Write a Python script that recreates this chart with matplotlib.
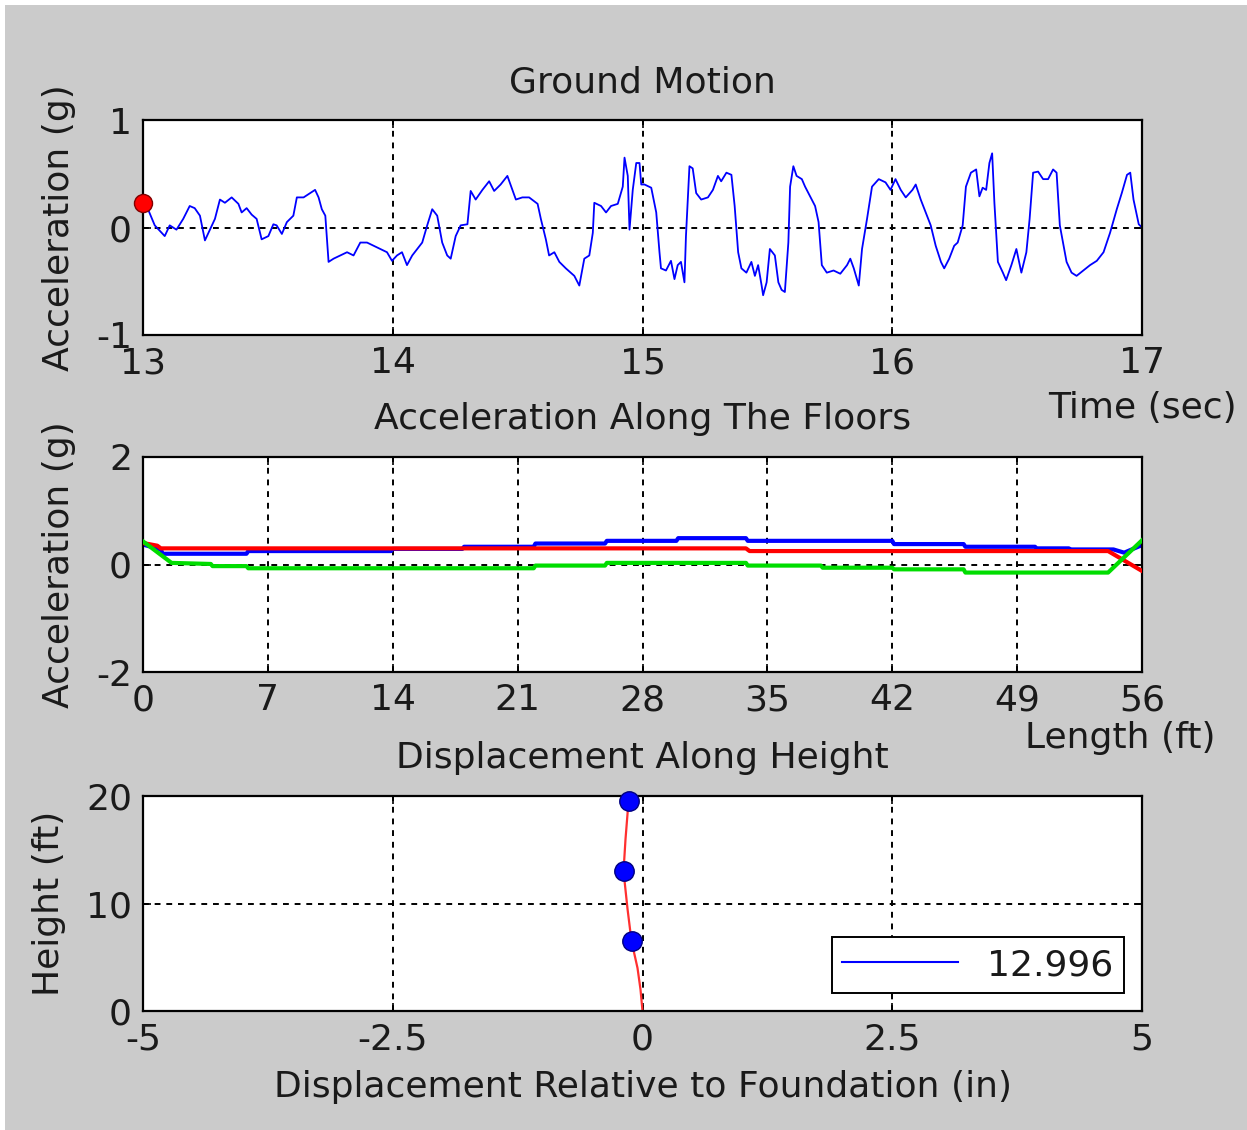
import numpy as np
import matplotlib
matplotlib.use('Agg')
import matplotlib.pyplot as plt
from matplotlib.lines import Line2D
from matplotlib.patches import Rectangle

plt.rcParams['font.family'] = ['DejaVu Sans']
plt.rcParams['axes.unicode_minus'] = False

# ground motion record (time in sec, acceleration in g)
gm_time = [13.000, 13.020, 13.047, 13.087, 13.107, 13.134, 13.161, 13.187, 13.207, 13.228,
           13.248, 13.268, 13.288, 13.308, 13.328, 13.355, 13.382, 13.395, 13.415, 13.435,
           13.455, 13.475, 13.502, 13.522, 13.535, 13.556, 13.576, 13.602, 13.616, 13.643,
           13.663, 13.689, 13.703, 13.716, 13.730, 13.743, 13.763, 13.790, 13.817, 13.843,
           13.870, 13.897, 13.924, 13.950, 13.977, 13.997, 14.017, 14.037, 14.057, 14.078,
           14.098, 14.118, 14.138, 14.158, 14.178, 14.198, 14.218, 14.232, 14.252, 14.272,
           14.299, 14.312, 14.332, 14.359, 14.386, 14.406, 14.432, 14.459, 14.479, 14.493,
           14.519, 14.546, 14.580, 14.593, 14.613, 14.626, 14.647, 14.667, 14.693, 14.727,
           14.747, 14.767, 14.787, 14.801, 14.807, 14.834, 14.854, 14.874, 14.901, 14.921,
           14.928, 14.941, 14.948, 14.961, 14.975, 14.988, 14.995, 15.008, 15.035, 15.055,
           15.068, 15.074, 15.094, 15.114, 15.128, 15.141, 15.154, 15.168, 15.174, 15.188,
           15.201, 15.215, 15.235, 15.262, 15.282, 15.302, 15.315, 15.336, 15.356, 15.369,
           15.383, 15.396, 15.416, 15.436, 15.450, 15.463, 15.477, 15.483, 15.497, 15.510,
           15.530, 15.544, 15.557, 15.570, 15.584, 15.591, 15.604, 15.617, 15.638, 15.651,
           15.671, 15.691, 15.705, 15.718, 15.738, 15.765, 15.792, 15.819, 15.832, 15.846,
           15.866, 15.879, 15.899, 15.919, 15.946, 15.973, 15.993, 16.013, 16.034, 16.054,
           16.081, 16.094, 16.114, 16.134, 16.154, 16.174, 16.195, 16.208, 16.228, 16.248,
           16.262, 16.282, 16.295, 16.315, 16.336, 16.349, 16.362, 16.376, 16.389, 16.400,
           16.409, 16.423, 16.443, 16.456, 16.477, 16.497, 16.517, 16.537, 16.550, 16.564,
           16.584, 16.604, 16.624, 16.644, 16.658, 16.671, 16.698, 16.718, 16.738, 16.765,
           16.792, 16.819, 16.846, 16.872, 16.899, 16.919, 16.940, 16.953, 16.966, 16.987,
           17.000]
gm_acc = [0.23, 0.17, 0.02, -0.08, 0.02, -0.02, 0.08, 0.20, 0.18, 0.11,
          -0.12, -0.02, 0.08, 0.26, 0.23, 0.28, 0.22, 0.14, 0.18, 0.12,
          0.08, -0.11, -0.08, 0.03, 0.02, -0.06, 0.05, 0.11, 0.28, 0.28,
          0.31, 0.35, 0.28, 0.17, 0.11, -0.32, -0.29, -0.26, -0.23, -0.26,
          -0.14, -0.14, -0.17, -0.20, -0.23, -0.31, -0.26, -0.23, -0.35, -0.26,
          -0.20, -0.14, 0.02, 0.17, 0.11, -0.14, -0.26, -0.29, -0.08, 0.02,
          0.03, 0.34, 0.26, 0.35, 0.43, 0.34, 0.40, 0.48, 0.35, 0.26,
          0.28, 0.28, 0.22, 0.08, -0.11, -0.26, -0.23, -0.32, -0.38, -0.45,
          -0.54, -0.29, -0.26, -0.05, 0.23, 0.20, 0.14, 0.20, 0.22, 0.38,
          0.65, 0.48, -0.02, 0.35, 0.60, 0.60, 0.40, 0.40, 0.37, 0.14,
          -0.23, -0.38, -0.40, -0.31, -0.48, -0.35, -0.32, -0.51, -0.08, 0.57,
          0.55, 0.32, 0.26, 0.28, 0.35, 0.48, 0.43, 0.51, 0.49, 0.20,
          -0.23, -0.38, -0.42, -0.32, -0.45, -0.35, -0.54, -0.63, -0.51, -0.20,
          -0.26, -0.51, -0.58, -0.60, -0.14, 0.38, 0.57, 0.48, 0.45, 0.38,
          0.29, 0.20, 0.05, -0.35, -0.42, -0.40, -0.43, -0.35, -0.29, -0.38,
          -0.54, -0.20, 0.08, 0.38, 0.45, 0.42, 0.35, 0.45, 0.35, 0.28,
          0.35, 0.40, 0.26, 0.14, 0.02, -0.17, -0.32, -0.38, -0.29, -0.17,
          -0.14, 0.02, 0.38, 0.51, 0.54, 0.29, 0.37, 0.35, 0.60, 0.69,
          0.23, -0.32, -0.42, -0.49, -0.35, -0.20, -0.42, -0.23, 0.08, 0.51,
          0.52, 0.45, 0.45, 0.54, 0.51, 0.02, -0.32, -0.42, -0.45, -0.40,
          -0.35, -0.31, -0.23, -0.05, 0.17, 0.32, 0.49, 0.51, 0.26, 0.03,
          0.0]
current_time = 13.0
current_acc = 0.23

# floor accelerations along the length (ft, g)
blue_len = [0, 1.0, 1.1, 5.8, 5.9, 13.9, 14.0, 17.9, 18.0, 21.9, 22.0, 25.9, 26.0, 29.9,
            30.0, 33.8, 33.9, 42.0, 42.1, 46.0, 46.1, 50.0, 50.1, 51.9, 52.0, 54.4, 55.0, 56]
blue_acc = [0.37, 0.28, 0.20, 0.20, 0.25, 0.25, 0.29, 0.29, 0.33, 0.33, 0.39, 0.39, 0.44, 0.44,
            0.49, 0.49, 0.44, 0.44, 0.38, 0.38, 0.33, 0.33, 0.30, 0.30, 0.28, 0.28, 0.22, 0.36]
red_len = [0, 0.8, 1.0, 33.8, 34.0, 54.1, 56]
red_acc = [0.40, 0.35, 0.30, 0.30, 0.25, 0.25, -0.12]
green_len = [0, 1.6, 3.8, 3.9, 5.8, 5.9, 21.9, 22.0, 25.9, 26.0, 33.8, 33.9, 38.0, 38.1,
             42.0, 42.1, 46.0, 46.1, 54.1, 56]
green_acc = [0.43, 0.03, 0.01, -0.03, -0.03, -0.07, -0.07, -0.02, -0.02, 0.03, 0.03, -0.02,
             -0.02, -0.06, -0.06, -0.09, -0.09, -0.15, -0.15, 0.45]

# displacement along height (in, ft)
shape_disp = [0, -0.02, -0.05, -0.11, -0.15, -0.19, -0.17, -0.14]
shape_h = [0, 2, 4, 6.5, 9.5, 13, 16, 19.5]
floor_disp = [-0.11, -0.19, -0.14]
floor_h = [6.5, 13, 19.5]
legend_label = '12.996'

fs = 26
tc = '#1a1a1a'
grey = '#cbcbcb'
fig = plt.figure(figsize=(12.47, 11.3), dpi=100)
fig.patch.set_facecolor('white')
fig.add_artist(Rectangle((5 / 1247, 0), 1 - 5 / 1247, 1 - 5 / 1130, transform=fig.transFigure,
                         facecolor=grey, edgecolor='none', zorder=-10))

W, H = 1247, 1130
def make_ax(top, bottom):
    ax = fig.add_axes([143 / W, (H - bottom) / H, 999 / W, (bottom - top) / H])
    ax.set_facecolor('white')
    for s in ax.spines.values():
        s.set_linewidth(1.6)
    ax.tick_params(direction='in', length=6, width=1.2, labelsize=fs, pad=8,
                   top=True, right=True, labelcolor=tc)
    return ax

def grid(ax, xs, ys):
    for x in xs:
        ax.axvline(x, color='k', lw=1.4, ls=(0, (3, 3)), zorder=1)
    for y in ys:
        ax.axhline(y, color='k', lw=1.4, ls=(0, (3, 3)), zorder=1)

# top panel
ax1 = make_ax(120, 335)
grid(ax1, [14, 15, 16], [0])
ax1.plot(gm_time, gm_acc, color='#0000ff', lw=1.3, zorder=2)
ax1.plot([current_time], [current_acc], 'o', color='red', markersize=13,
         markeredgecolor='#800000', clip_on=False, zorder=5)
ax1.set_xlim(13, 17)
ax1.set_ylim(-1, 1)
ax1.set_xticks([13, 14, 15, 16, 17])
ax1.set_yticks([-1, 0, 1])
ax1.set_title('Ground Motion', fontsize=fs, pad=20, color=tc)
ax1.set_ylabel('Acceleration (g)', fontsize=fs, labelpad=14, color=tc)
ax1.text(1.0, -0.34, 'Time (sec)', transform=ax1.transAxes, fontsize=fs,
         ha='center', va='center', color=tc)

# middle panel
ax2 = make_ax(457, 672)
grid(ax2, [7, 14, 21, 28, 35, 42, 49], [0])
ax2.plot(blue_len, blue_acc, color='#0000ff', lw=3, zorder=2)
ax2.plot(red_len, red_acc, color='#ff0000', lw=3, zorder=3)
ax2.plot(green_len, green_acc, color='#00dd00', lw=3, zorder=4)
ax2.set_xlim(0, 56)
ax2.set_ylim(-2, 2)
ax2.set_xticks([0, 7, 14, 21, 28, 35, 42, 49, 56])
ax2.set_yticks([-2, 0, 2])
ax2.set_title('Acceleration Along The Floors', fontsize=fs, pad=20, color=tc)
ax2.set_ylabel('Acceleration (g)', fontsize=fs, labelpad=14, color=tc)
ax2.text(0.978, -0.307, 'Length (ft)', transform=ax2.transAxes, fontsize=fs,
         ha='center', va='center', color=tc)

# bottom panel
ax3 = make_ax(796, 1011)
grid(ax3, [-2.5, 0, 2.5], [10])
ax3.plot(shape_disp, shape_h, color='#ff3030', lw=1.6, zorder=2)
ax3.plot(floor_disp, floor_h, 'o', color='#0000ff', markersize=14,
         markeredgecolor='#000080', clip_on=False, zorder=3)
ax3.set_xlim(-5, 5)
ax3.set_ylim(0, 20)
ax3.set_xticks([-5, -2.5, 0, 2.5, 5])
ax3.set_xticklabels(['-5', '-2.5', '0', '2.5', '5'])
ax3.set_yticks([0, 10, 20])
ax3.set_title('Displacement Along Height', fontsize=fs, pad=20, color=tc)
ax3.set_ylabel('Height (ft)', fontsize=fs, labelpad=14, color=tc)
ax3.set_xlabel('Displacement Relative to Foundation (in)', fontsize=fs, labelpad=10,
               color=tc)
handle = Line2D([], [], color='#0000ff', lw=1.5)
leg = ax3.legend([handle], [legend_label], loc='lower right', fontsize=fs,
                 fancybox=False, framealpha=1, edgecolor='k', handlelength=3.2,
                 borderaxespad=0.5, borderpad=0.3, labelcolor=tc)
leg.get_frame().set_linewidth(1.4)

fig.savefig('out.png', dpi=100, facecolor=fig.get_facecolor())
